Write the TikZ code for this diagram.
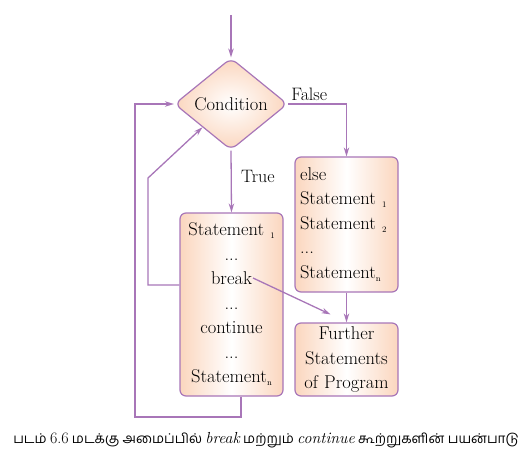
\documentclass[tikz,border=0pt]{standalone}
\usepackage{fontspec}
\newfontfamily\tamilfont[Script=Tamil]{Hind Madurai}
\usetikzlibrary{shapes.geometric, arrows.meta}
\definecolor{flowline}{RGB}{168,118,184}
\definecolor{peach}{RGB}{251,214,190}
\newcommand{\stsub}[1]{\raisebox{-3pt}{\fontsize{8.5}{8.5}\selectfont #1}}
\newcommand{\capltn}[1]{{\rmfamily\fontsize{16}{16}\selectfont #1}}

\begin{document}
\begin{tikzpicture}[x=1pt, y=-1pt,
		base/.style={draw=flowline, line width=1.2pt, rounded corners=6pt, left color=peach, right color=peach, middle color=white, text width=93pt, inner xsep=5pt, inner ysep=0pt, font=\fontsize{18.5}{24.5}\selectfont},
		decision/.style={diamond, draw=flowline, line width=1.2pt, rounded corners=7pt, inner color=white, outer color=peach, minimum width=113pt, minimum height=92pt, inner sep=1pt, font=\fontsize{18.5}{20}\selectfont},
		link/.style={-{Stealth[length=9pt, width=5.5pt]}, draw=flowline, line width=1.3pt},
		lbl/.style={font=\fontsize{18}{20}\selectfont}
	]
	\useasboundingbox (0,0) rectangle (531,460);

	\node[decision] at (231,104) (cond) {Condition};
	\node[base, align=center, minimum height=183pt] at (231.5,304.5) (stmt) {Statement \stsub{1}\\...\\break\\...\\continue\\...\\Statement\stsub{n}};
	\node[base, align=left, minimum height=135pt] at (346.5,224.5) (elsebox) {else\\Statement \stsub{1}\\Statement \stsub{2}\\...\\Statement\stsub{n}};
	\node[base, align=center, minimum height=73pt] at (346.5,359.5) (further) {Further\\Statements\\of Program};

	\coordinate (start) at (231,15);
	\coordinate (loopcorner) at (135,417);
	\coordinate (contlow) at (148,285);
	\coordinate (conthigh) at (148,178);
	\coordinate (brk) at (253,278);

	\draw[link] (start) -- (cond.north);
	\draw[link] (cond.east) -| (elsebox.north);
	\node[lbl, anchor=south west, inner sep=3pt] at (cond.east) (falselbl) {False};
	\draw[link] (cond.south) -- node[lbl, right=6pt, pos=0.42] (truelbl) {True} (stmt.north);
	\draw[link] (elsebox.south) -- (further.north);
	\draw[link] ([xshift=9.5pt]stmt.south) |- (loopcorner) |- (cond.west);
	\draw[link] (stmt.west |- contlow) -- (contlow) -- (conthigh) -- (cond.south west);
	\draw[link] (brk) -- ([xshift=-16pt, yshift=8pt]further.north);

	\node[font=\tamilfont\fontsize{13.5}{16}\selectfont] at (266,440) (caption) {படம் \capltn{6.6} மடக்கு அமைப்பில்  \capltn{\itshape break} மற்றும் \capltn{\itshape continue} கூற்றுகளின் பயன்பாடு};

\end{tikzpicture}
\end{document}
